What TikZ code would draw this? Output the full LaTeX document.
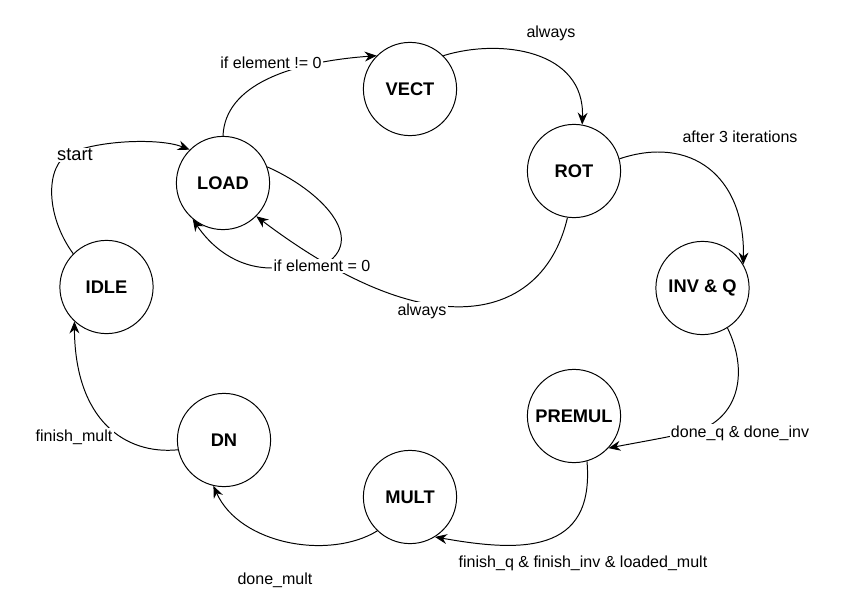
\documentclass[tikz,border=0pt]{standalone}
\usepackage{fontspec}
\setmainfont{Liberation Sans}
\usetikzlibrary{arrows.meta}
\begin{document}
\begin{tikzpicture}[x=0.025cm, y=-0.025cm,
        st/.style={draw, circle, line width=0.7pt, minimum size=2.33cm, inner sep=0pt,
            font=\fontsize{13}{15}\selectfont\bfseries},
        tr/.style={line width=0.7pt, -{Stealth[length=8.5pt,width=7pt]}},
        lbl/.style={font=\fontsize{11.4}{13}\selectfont, inner sep=1pt},
        lblw/.style={lbl, fill=white}]
            \useasboundingbox (0,0) rectangle (850,613);
            \foreach \n/\x/\y/\t in {vect/410/89/VECT, rot/574/171/ROT, load/223/183/LOAD,
                    idle/106.5/287/IDLE, inv/702.5/288/{INV \& Q}, premul/574/416/PREMUL,
                    dn/224/440/DN, mult/410/497/MULT}
                \node[st] (\n) at (\x,\y) {\t};

            \draw[tr] (load.90) .. controls (225,85) and (290,62) .. (vect.135);
            \draw[tr] (vect.45) .. controls (500,38) and (585,50) .. (rot.80);
            \draw[tr] (rot.15) .. controls (690,135) and (745,175) .. (inv.30);
            \draw[tr] (rot.262) .. controls (545,315) and (440,355) .. (load.-45);
            \draw[tr] (load.20) .. controls (320,190) and (370,240) .. (322,266) -- (272,268)
                .. controls (235,268) and (210,245) .. (load.230);
            \draw[tr] (idle.135) .. controls (45,215) and (45,165) .. (70,153)
                .. controls (100,140) and (160,138) .. (load.135);
            \draw[tr] (inv.-58) .. controls (748,370) and (740,415) .. (700,430)
                .. controls (670,437) and (640,442) .. (premul.-43);
            \draw[tr] (premul.-74) .. controls (595,555) and (520,552) .. (mult.-58);
            \draw[tr] (mult.226) .. controls (330,560) and (240,545) .. (dn.257);
            \draw[tr] (dn.192) .. controls (125,455) and (75,420) .. (idle.227);

            \node[lblw] (c1) at (271,63) {if element != 0};
            \node[lbl] (c2) at (551,33) {always};
            \node[lbl] (c3) at (740,137) {after 3 iterations};
            \node[lblw] (c4) at (422,311) {always};
            \node[lblw] (c5) at (322,266) {if element = 0};
            \node[lblw, font=\fontsize{13}{15}\selectfont] (c6) at (75,155) {start};
            \node[lblw] (c7) at (740,433) {done\_q \& done\_inv};
            \node[lbl] (c8) at (583,563) {finish\_q \& finish\_inv \& loaded\_mult};
            \node[lbl] (c9) at (275,580) {done\_mult};
            \node[lblw] (c10) at (74,437) {finish\_mult};
        \end{tikzpicture}
\end{document}
